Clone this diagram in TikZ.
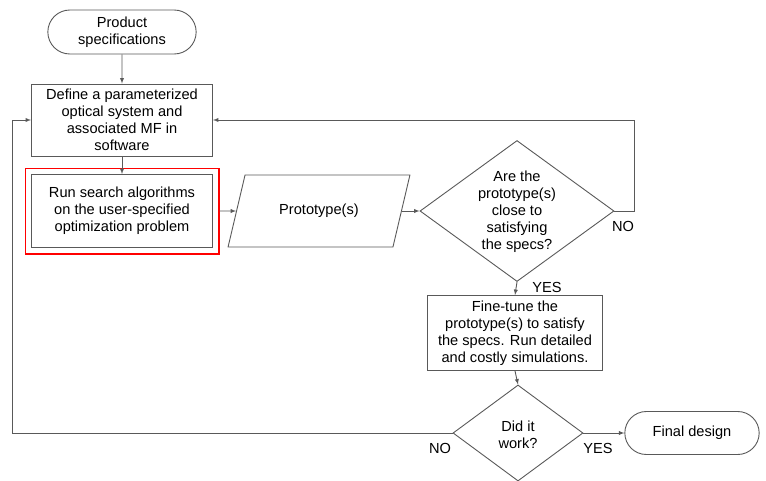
\documentclass[tikz,border=0pt]{standalone}
\usepackage{fontspec}
\setmainfont{Liberation Sans}
\usepackage{tikz}
\usetikzlibrary{arrows,shapes,shapes.geometric,shapes.misc,positioning,fit}

\begin{document}
\begin{tikzpicture}[x=1pt,y=-1pt,every node/.style={font=\fontsize{14.6}{17}\selectfont}]

\tikzset{block/.style={rectangle, draw=black!65, line width=0.9pt, align=center, inner sep=2pt},
terminal/.style={rounded rectangle, draw=black!65, line width=0.9pt, align=center},
decision/.style={diamond, draw=black!65, line width=0.9pt, inner sep=0pt},
io/.style={trapezium, trapezium left angle=64, trapezium right angle=116,
   trapezium stretches=true, draw=black!65, line width=0.9pt},
flow/.style={draw=black!65, line width=0.9pt, -latex},
redframe/.style={draw=red, line width=1.1pt, inner sep=6pt}}

\useasboundingbox (0,0) rectangle (766,480);

% left column
\node[terminal, minimum width=155, minimum height=44] (specs) at (122,32) {Product\\specifications};
\node[block, minimum width=181, minimum height=72] (define) at (122,120)
   {Define a parameterized\\optical system and\\associated MF in\\software};
\node[block, minimum width=181, minimum height=73] (search) at (122,211)
   {Run search algorithms\\on the user-specified\\optimization problem};
\node[redframe, fit=(search)] (highlight) {};

% prototypes and first check
\node[io, minimum width=182, minimum height=72] (proto) at (319,211) {Prototype(s)};
\node[decision, minimum width=194, minimum height=141] (check) at (517,211) {};
\node[align=center] (checktext) at (517,212)
   {Are the\\prototype(s)\\close to\\satisfying\\the specs?};

% fine tuning and final check
\node[block, minimum width=175, minimum height=75] (tune) at (515,333)
   {Fine-tune the\\prototype(s) to satisfy\\the specs. Run detailed\\and costly simulations.};
\node[decision, minimum width=130, minimum height=96] (work) at (518,433) {};
\node[align=center] (worktext) at (518,435) {Did it\\work?};
\node[terminal, minimum width=141, minimum height=43] (final) at (692,433) {Final design};

\coordinate (rightbend) at (634,211);
\coordinate (leftbend) at (12,433);

\draw[flow] (specs) -- (define);
\draw[flow] (define) -- (search);
\draw[flow] (highlight.east |- search.east) -- (proto);
\draw[flow] (proto) -- (check.west);
\draw[flow] (check.south) -- (tune.north);
\draw[flow] (tune.south) -- (work.north);
\draw[flow] (work.east) -- (final.west);

% the two NO loops back to the definition
\draw[flow] (check.east) -- (rightbend) |- (define.east);
\draw[flow] (work.west) -- (leftbend) |- (define.west);

\node (no1) at (623,226) {NO};
\node (yes1) at (547,287) {YES};
\node (no2) at (440,448) {NO};
\node (yes2) at (598,448) {YES};

\end{tikzpicture}
\end{document}
